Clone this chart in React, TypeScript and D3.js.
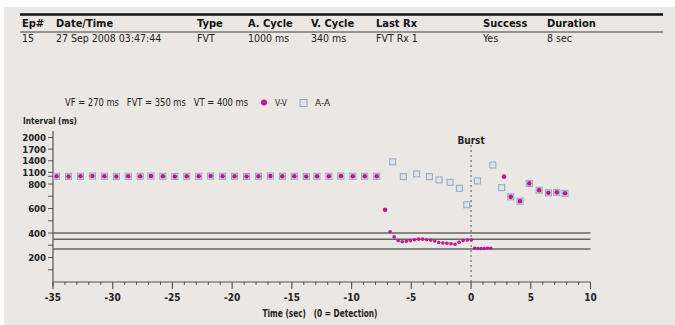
import React from "react";
import * as d3 from "d3";

// episode table
const headers = ["Ep#", "Date/Time", "Type", "A. Cycle", "V. Cycle", "Last Rx", "Success", "Duration"];
const rowValues = ["15", "27 Sep 2008 03:47:44", "FVT", "1000 ms", "340 ms", "FVT Rx 1", "Yes", "8 sec"];
const columnX = [22, 56, 197, 248, 311, 376, 483, 547];

// detection zones (ms)
const zoneNames = ["VF", "FVT", "VT"];
const zoneValues = [270, 350, 400];

// axis ticks
const xTicks = [-35, -30, -25, -20, -15, -10, -5, 0, 5, 10];
const yLabelTicks = [200, 400, 600, 800, 1100, 1400, 1700, 2000];
const yMinorTicks = [100, 300, 500, 700, 1000];

// baseline sinus rhythm (sec, ms) - A-A and V-V coincide
const baselineTimes = [-34.7, -33.7, -32.7, -31.7, -30.7, -29.7, -28.7, -27.7, -26.8, -25.8, -24.8, -23.8, -22.8, -21.8,
  -20.8, -19.8, -18.8, -17.8, -16.8, -15.8, -14.8, -13.8, -12.9, -11.9, -10.9, -9.9, -8.9, -7.9];
const baselineMs = [1000, 995, 1000, 1005, 1000, 995, 1000, 1000, 1005, 1000, 995, 1000, 1000, 1005,
  1000, 1000, 995, 1000, 1005, 1000, 1000, 995, 1000, 1000, 1005, 1000, 1000, 1000];

// A-A intervals after onset
const aaPoints: [number, number][] = [
  [-6.56, 1370], [-5.67, 990], [-4.55, 1060], [-3.49, 990], [-2.68, 905], [-1.76, 845], [-0.98, 765],
  [-0.36, 630], [0.53, 880], [1.82, 1290], [2.57, 770], [3.32, 695], [4.1, 660], [4.88, 815],
  [5.7, 750], [6.47, 728], [7.18, 732], [7.87, 724],
];

// V-V intervals during the tachycardia and the burst
const vvTachy: [number, number][] = [
  [-6.78, 410], [-6.44, 368], [-6.1, 338], [-5.76, 328], [-5.42, 332], [-5.08, 338], [-4.74, 345],
  [-4.4, 350], [-4.06, 350], [-3.72, 345], [-3.38, 342], [-3.04, 335], [-2.7, 322], [-2.36, 318],
  [-2.02, 316], [-1.68, 312], [-1.34, 308], [-1.0, 325], [-0.66, 338], [-0.32, 342], [0.02, 343],
  [0.3, 275], [0.57, 274], [0.84, 274], [1.11, 274], [1.38, 275], [1.65, 276],
];
// other V-V intervals
const vvPoints: [number, number][] = [
  [-7.2, 590], [2.76, 990], [3.32, 695], [4.1, 660], [4.88, 815], [5.7, 750], [6.47, 728], [7.18, 732], [7.87, 724],
];

const W = 675;
const H = 325;
const font = "'Liberation Sans Narrow', 'DejaVu Sans Condensed', 'Liberation Sans', sans-serif";
const magenta = "#c2188f";
const sqStroke = "#93a6bd";
const sqFill = "#dfe4ea";

const App = () => {
  const x = d3.scaleLinear().domain([-35, 10]).range([53, 590.5]);
  const y = d3.scaleLinear().domain([0, 800, 2000]).range([282, 184, 137.5]);
  const minorX = d3.range(-35, 11, 1).filter((d) => d % 5 !== 0);

  const square = (t: number, v: number, k: string) => (
    <rect key={k} x={x(t) - 3} y={y(v) - 3} width={6} height={6} fill={sqFill} stroke={sqStroke} strokeWidth={1} />
  );
  const dot = (t: number, v: number, k: string, r = 2.3) => (
    <circle key={k} cx={x(t)} cy={y(v)} r={r} fill={magenta} />
  );

  return (
    <div style={{ position: "absolute", left: 0, top: 0 }}>
      <svg width={W} height={H} style={{ display: "block", fontFamily: font }}>
        <rect x={0} y={0} width={W} height={H} fill="#fff" />
        <rect x={4} y={7} width={W - 4} height={H - 7} fill="#ebe7e4" />

        {/* table */}
        <line x1={20} x2={663} y1={14.5} y2={14.5} stroke="#111" strokeWidth={2.6} />
        <line x1={20} x2={663} y1={32} y2={32} stroke="#777" strokeWidth={1.4} />
        {headers.map((h, i) => (
          <text key={h} x={columnX[i]} y={27} fontSize={11} fontWeight="bold" fill="#111">{h}</text>
        ))}
        {rowValues.map((v, i) => (
          <text key={i} x={columnX[i]} y={42} fontSize={10.5} fill="#222">{v}</text>
        ))}

        {/* legend */}
        <text x={65} y={106} fontSize={10} fill="#222" xmlSpace="preserve" textLength={183} lengthAdjust="spacingAndGlyphs">
          {zoneNames.map((n, i) => `${n} = ${zoneValues[i]} ms`).join("   ")}
        </text>
        <circle cx={264} cy={102.5} r={3} fill={magenta} />
        <text x={275} y={106} fontSize={9} fill="#222" textLength={12} lengthAdjust="spacingAndGlyphs">V-V</text>
        <rect x={300} y={99.5} width={7} height={7} fill={sqFill} stroke={sqStroke} />
        <text x={315} y={106} fontSize={9} fill="#222" textLength={15} lengthAdjust="spacingAndGlyphs">A-A</text>
        <text x={23} y={124} fontSize={9.5} fontWeight="bold" fill="#222" textLength={54} lengthAdjust="spacingAndGlyphs">Interval (ms)</text>

        {/* y axis */}
        <line x1={53} x2={53} y1={131} y2={286} stroke="#555" strokeWidth={1.2} />
        {yLabelTicks.concat(yMinorTicks).map((d) => (
          <line key={d} x1={48} x2={53} y1={y(d)} y2={y(d)} stroke="#555" strokeWidth={1} />
        ))}
        {yLabelTicks.map((d) => (
          <text key={d} x={46} y={y(d) + 3.5} fontSize={9.5} fontWeight="bold" textAnchor="end" fill="#222">{d}</text>
        ))}

        {/* x axis */}
        <line x1={x(-35)} x2={x(10)} y1={y(0)} y2={y(0)} stroke="#555" strokeWidth={1.2} />
        {minorX.map((d) => (
          <line key={d} x1={x(d)} x2={x(d)} y1={y(0)} y2={y(0) + 3} stroke="#555" strokeWidth={1} />
        ))}
        {xTicks.map((d) => (
          <g key={d}>
            <line x1={x(d)} x2={x(d)} y1={y(0)} y2={y(0) + 7} stroke="#555" strokeWidth={1.2} />
            <text x={x(d)} y={301} fontSize={10} fontWeight="bold" textAnchor="middle" fill="#222">{d}</text>
          </g>
        ))}
        <text x={320} y={317} fontSize={10} fontWeight="bold" textAnchor="middle" fill="#222" xmlSpace="preserve"
          textLength={115} lengthAdjust="spacingAndGlyphs">
          Time (sec)   (0 = Detection)
        </text>

        {/* zone lines */}
        {zoneValues.map((v) => (
          <line key={v} x1={x(-35)} x2={x(10)} y1={y(v)} y2={y(v)} stroke="#666" strokeWidth={1.5} />
        ))}

        {/* burst marker */}
        <line x1={x(0)} x2={x(0)} y1={145} y2={y(0)} stroke="#555" strokeWidth={1} strokeDasharray="2,3" />
        <text x={x(0)} y={144} fontSize={10} fontWeight="bold" textAnchor="middle" fill="#222">Burst</text>

        {/* data */}
        {baselineTimes.map((t, i) => square(t, baselineMs[i], `ba${i}`))}
        {aaPoints.map(([t, v], i) => square(t, v, `a${i}`))}
        {baselineTimes.map((t, i) => dot(t, baselineMs[i], `bv${i}`))}
        {vvPoints.map(([t, v], i) => dot(t, v, `v${i}`))}
        {vvTachy.map(([t, v], i) => dot(t, v, `vt${i}`, 1.8))}
      </svg>
    </div>
  );
};

export default App;
